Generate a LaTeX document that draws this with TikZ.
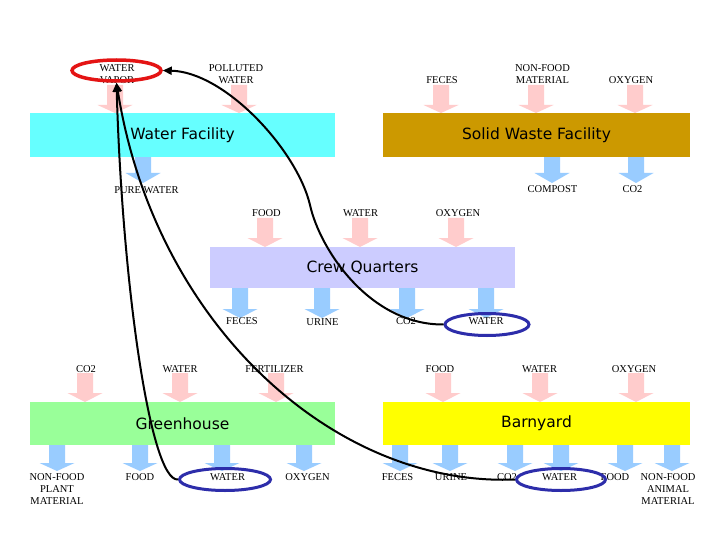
\documentclass[tikz,border=0pt]{standalone}
\usepackage{fontspec}
\setmainfont{Liberation Serif}
\newfontfamily\boxfont{DejaVu Sans}
\usetikzlibrary{shapes.geometric,arrows.meta}
\definecolor{pinkarr}{RGB}{255,204,204}
\definecolor{bluearr}{RGB}{153,204,255}
\definecolor{wfcol}{RGB}{102,255,255}
\definecolor{swcol}{RGB}{204,153,0}
\definecolor{cqcol}{RGB}{204,204,255}
\definecolor{ghcol}{RGB}{153,255,153}
\definecolor{bycol}{RGB}{255,255,0}
\definecolor{ringred}{RGB}{228,20,20}
\definecolor{ringblue}{RGB}{45,45,170}
\tikzset{
  pics/flowarr/.style n args={3}{code={
    \fill[#1] (-8,0) -- (8,0) -- (8,#2-#3) -- (17.5,#2-#3) -- (0,#2)
      -- (-17.5,#2-#3) -- (-8,#2-#3) -- cycle;}},
  unitbox/.style={minimum width=305pt, minimum height=44pt, inner sep=0pt,
    font=\boxfont\fontsize{15.5}{18}\selectfont},
  lbl/.style={font=\fontsize{10.5}{12}\selectfont, inner sep=0pt, anchor=base, align=center},
  ring/.style={shape=ellipse, draw, line width=3pt, inner sep=0pt, minimum height=22pt},
  flowline/.style={line width=2pt, -{Triangle[length=9pt,width=8pt]}}
}
\begin{document}
\begin{tikzpicture}[x=1pt,y=-1pt]
\fill[white] (0,0) rectangle (720,540);
\useasboundingbox (0,0) rectangle (720,540);
% ---- flow arrows ----
\foreach \x in {115,239,441,536,635} \pic at (\x,85) {flowarr={pinkarr}{28}{8}};
\foreach \x in {143,552,636} \pic at (\x,157) {flowarr={bluearr}{26}{10}};
\foreach \x in {265,360,456} \pic at (\x,218) {flowarr={pinkarr}{29}{9}};
\foreach \x in {240,322,407,486} \pic at (\x,288) {flowarr={bluearr}{30}{9}};
\foreach \x in {85,180,276,443,540,636} \pic at (\x,373) {flowarr={pinkarr}{29}{9}};
\foreach \x in {57,140,222,304,400,450,515,561,625,672} \pic at (\x,445) {flowarr={bluearr}{26}{8}};
% ---- facility boxes ----
\node[unitbox, fill=wfcol] (wf) at (182.5,135) {Water Facility};
\node[unitbox, fill=swcol, minimum width=307pt] (sw) at (536.5,135) {Solid Waste Facility};
\node[unitbox, fill=cqcol, minimum height=41pt] (cq) at (362.5,267.5) {Crew Quarters};
\node[unitbox, fill=ghcol, minimum height=43pt] (gh) at (182.5,423.5) {Greenhouse};
\node[unitbox, fill=bycol, minimum width=307pt, minimum height=43pt] (by) at (536.5,423.5) {Barnyard};
% ---- labels ----
\node[lbl] (l1) at (117,83.5) {WATER\\VAPOR};
\node[lbl] (l2) at (236,83.5) {POLLUTED\\WATER};
\node[lbl] (l3) at (442,83.5) {FECES};
\node[lbl] (l4) at (542.5,83.5) {NON-FOOD\\MATERIAL};
\node[lbl] (l5) at (631,83.5) {OXYGEN};
\node[lbl] (l6) at (146.5,193.5) {PURE WATER};
\node[lbl] (l7) at (552.5,192.5) {COMPOST};
\node[lbl] (l8) at (632.5,192.5) {CO2};
\node[lbl] (l9) at (266.5,216) {FOOD};
\node[lbl] (l10) at (360.5,216) {WATER};
\node[lbl] (l11) at (458,216) {OXYGEN};
\node[lbl] (l12) at (242,324.5) {FECES};
\node[lbl] (l13) at (322.5,325) {URINE};
\node[lbl] (l14) at (406,324.5) {CO2};
\node[lbl] (l15) at (486,324.5) {WATER};
\node[lbl] (l16) at (86,372) {CO2};
\node[lbl] (l17) at (180,372) {WATER};
\node[lbl] (l18) at (274.5,372) {FERTILIZER};
\node[lbl] (l19) at (440,372) {FOOD};
\node[lbl] (l20) at (539.5,372) {WATER};
\node[lbl] (l21) at (634,372) {OXYGEN};
\node[lbl] (l22) at (57,504) {NON-FOOD\\PLANT\\MATERIAL};
\node[lbl] (l23) at (140,480) {FOOD};
\node[lbl] (l24) at (227.5,480) {WATER};
\node[lbl] (l25) at (307.5,480) {OXYGEN};
\node[lbl] (l26) at (397.5,480) {FECES};
\node[lbl] (l27) at (451,480) {URINE};
\node[lbl] (l28) at (507,480) {CO2};
\node[lbl] (l29) at (559.5,480) {WATER};
\node[lbl] (l30) at (615,480) {FOOD};
\node[lbl] (l31) at (668,504) {NON-FOOD\\ANIMAL\\MATERIAL};
% ---- rings ----
\node[ring, draw=ringred, line width=3.5pt, minimum width=89pt, minimum height=21pt] (vapring) at (116.5,70.5) {};
\node[ring, draw=ringblue, minimum width=84pt] (cqring) at (487,324.5) {};
\node[ring, draw=ringblue, minimum width=91pt] (ghring) at (225,479.5) {};
\node[ring, draw=ringblue, minimum width=89pt] (byring) at (561,479.5) {};
% ---- recycling curves ----
\coordinate (bend) at (310,205);
\draw[flowline] (ghring.west) .. controls (150,482) and (122,280) .. (vapring.south);
\draw[flowline] (byring.west) .. controls (335,487) and (155,325) .. (vapring.south);
\draw[flowline] (cqring.west) .. controls (370,325) and (320,250) .. (bend)
   .. controls (297,150) and (225,72) .. (vapring.east);
\end{tikzpicture}
\end{document}
